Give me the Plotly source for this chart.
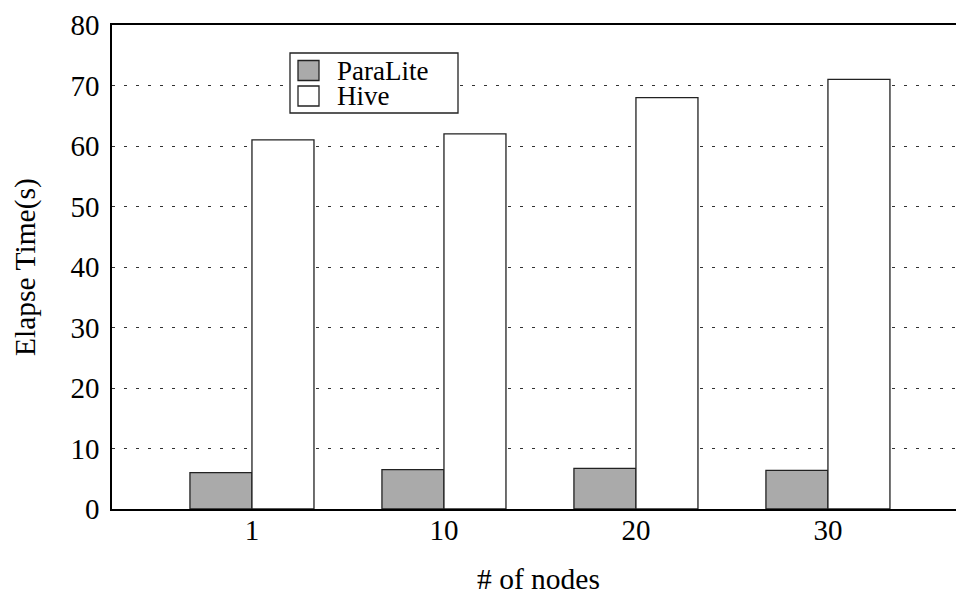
import plotly.graph_objects as go

categories = ["1", "10", "20", "30"]
paralite = [6.0, 6.5, 6.7, 6.4]
hive = [61, 62, 68, 71]
series_names = ["ParaLite", "Hive"]
y_ticks = [0, 10, 20, 30, 40, 50, 60, 70, 80]

FONT = "Liberation Serif"
FS_TICK = 29
FS_TITLE = 29.5
FS_LEG = 27
W, H = 956, 594
ML, MR, MT, MB = 112, 0, 25, 85
PW, PH = W - ML - MR, H - MT - MB


def px(xp):
    return (xp - ML) / PW


def py(yp):
    return (H - MB - yp) / PH


fig = go.Figure()
fig.add_trace(go.Bar(x=categories, y=paralite, name=series_names[0],
                     marker=dict(color="#aaaaaa", line=dict(color="#222222", width=1.3)),
                     showlegend=False))
fig.add_trace(go.Bar(x=categories, y=hive, name=series_names[1],
                     marker=dict(color="#ffffff", line=dict(color="#222222", width=1.3)),
                     showlegend=False))

shapes = []
annotations = []
# legend box
shapes.append(dict(type="rect", xref="paper", yref="paper",
                   x0=px(290), x1=px(458), y0=py(113), y1=py(53),
                   line=dict(color="#222222", width=1.3), fillcolor="white", layer="above"))
leg_fill = ["#aaaaaa", "#ffffff"]
leg_y = [70.5, 96]
for name, fillc, yc in zip(series_names, leg_fill, leg_y):
    shapes.append(dict(type="rect", xref="paper", yref="paper",
                       x0=px(298), x1=px(319), y0=py(yc + 10), y1=py(yc - 10),
                       line=dict(color="#222222", width=1.3), fillcolor=fillc, layer="above"))
    annotations.append(dict(text=name, xref="paper", yref="paper", x=px(335), y=py(yc),
                            xanchor="left", yanchor="middle", showarrow=False, height=26,
                            font=dict(family=FONT, size=FS_LEG, color="black")))

annotations.append(dict(text="Elapse Time(s)", xref="paper", yref="paper",
                        x=px(25), y=0.5, textangle=-90, xanchor="center", yanchor="middle",
                        showarrow=False, font=dict(family=FONT, size=FS_TITLE, color="black")))
annotations.append(dict(text="# of nodes", xref="paper", yref="paper",
                        x=px(538), y=py(579), xanchor="center", yanchor="middle",
                        showarrow=False, font=dict(family=FONT, size=FS_TITLE, color="black")))

fig.update_layout(
    width=W, height=H,
    margin=dict(l=ML, r=MR, t=MT, b=MB, pad=0),
    paper_bgcolor="white", plot_bgcolor="white",
    barmode="group", bargap=0.354, bargroupgap=0,
    font=dict(family=FONT, size=FS_TICK, color="black"),
    shapes=shapes, annotations=annotations,
    showlegend=False,
)
fig.update_xaxes(type="category", range=[-0.729, 3.667], showline=True, mirror=True,
                 linecolor="black", linewidth=1.5, showgrid=False, ticks="",
                 ticklabelstandoff=-6, tickfont=dict(family=FONT, size=FS_TICK, color="black"))
fig.update_yaxes(range=[0, 80], tickvals=y_ticks, showline=True, mirror=False,
                 linecolor="black", linewidth=1.5, showgrid=True, gridcolor="#333333",
                 griddash="3px,9px", gridwidth=1, zeroline=False, ticks="",
                 ticklabelstandoff=5, tickfont=dict(family=FONT, size=FS_TICK, color="black"))

fig.write_html("out.html")
